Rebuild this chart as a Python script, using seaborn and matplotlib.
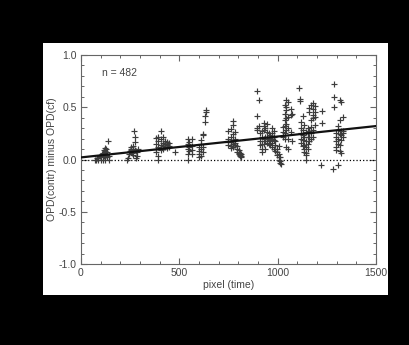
import matplotlib
matplotlib.use('Agg')
import matplotlib.pyplot as plt
from matplotlib.patches import Rectangle
from matplotlib.ticker import MultipleLocator
import seaborn as sns

# OPD(contr) - OPD(cf) against pixel
pixel = (
    [72, 76, 80, 84, 88, 96, 100, 104, 106, 110, 112, 116, 118, 120, 122, 124,
     126, 128, 130, 132, 136, 140, 144]
    + [236, 238, 245, 247, 252, 254, 256, 258, 262, 264, 266, 272, 274, 275,
       276, 278, 282, 284, 286, 288]
    + [382, 382, 382, 382, 394, 394, 394, 394, 394, 406, 406, 406, 406,
       419, 419, 419, 419, 428, 428, 428, 436, 436, 436, 436, 445, 445, 445, 479]
    + [543, 543, 543, 543, 543, 551, 551, 551, 563, 563, 563, 563]
    + [602, 602, 602, 602, 611, 611, 611, 611, 619, 619, 619, 619]
    + [633, 633, 635, 635]
    + [750, 750, 750, 750, 762, 762, 762, 762, 762, 772, 772, 772, 772, 772,
       772, 784, 784, 784, 784, 792, 792, 792, 801, 801, 801, 809, 809, 809,
       815, 815, 815]
    + [894, 894, 894, 894, 903, 903, 911, 911, 911, 920, 920, 920, 920, 920]
    + [928, 928, 928, 928, 928, 937, 937, 937, 937, 945, 945, 945, 945, 945,
       954, 954, 954, 954, 962, 962, 962, 962, 971, 971, 971, 971, 971,
       979, 979, 979, 979, 988, 988, 988]
    + [999, 999, 999, 1006, 1006, 1006, 1006, 1013, 1013, 1013, 1016]
    + [1027, 1027, 1027, 1035, 1035, 1035, 1035, 1035, 1035,
       1044, 1044, 1044, 1044, 1044, 1044, 1044, 1052, 1052, 1052, 1052, 1052]
    + [1067, 1067, 1067, 1074, 1074]
    + [1111, 1115, 1115]
    + [1118, 1118, 1118, 1118, 1118, 1128, 1128, 1128, 1128, 1128,
       1135, 1135, 1135, 1135, 1135, 1144, 1144, 1144, 1144, 1144, 1144,
       1152, 1152, 1152, 1152, 1152]
    + [1161, 1161, 1161, 1161, 1161, 1169, 1169, 1169, 1169, 1169, 1169,
       1179, 1179, 1179, 1179, 1179, 1179, 1188, 1188, 1188, 1188]
    + [1225, 1225, 1220]
    + [1288, 1288, 1288, 1283, 1298, 1298, 1298, 1298, 1298,
       1307, 1307, 1307, 1307, 1307, 1315, 1315, 1315, 1315, 1315,
       1324, 1324, 1324, 1324, 1324, 1332, 1332, 1332, 1332]
)
opd_diff = (
    [0.0, 0.0, 0.01, 0.0, 0.01, 0.03, 0.0, 0.02, 0.05, 0.06, 0.0, 0.09, 0.03,
     0.11, 0.0, 0.08, 0.04, 0.1, 0.02, 0.07, 0.18, 0.0, 0.03]
    + [0.0, 0.01, 0.05, 0.08, 0.09, 0.12, 0.1, 0.06, 0.1, 0.13, 0.04, 0.27,
       0.22, 0.17, 0.09, 0.08, 0.01, 0.03, 0.07, 0.1]
    + [0.21, 0.15, 0.1, 0.07, 0.0, 0.03, 0.12, 0.22, 0.18, 0.27, 0.2, 0.14,
       0.09, 0.22, 0.16, 0.13, 0.1, 0.15, 0.18, 0.12, 0.14, 0.17, 0.11, 0.15,
       0.13, 0.16, 0.12, 0.07]
    + [0.2, 0.15, 0.1, 0.05, 0.0, 0.12, 0.08, 0.17, 0.2, 0.13, 0.09, 0.05]
    + [0.02, 0.05, 0.08, 0.12, 0.15, 0.19, 0.1, 0.03, 0.23, 0.24, 0.12, 0.07]
    + [0.36, 0.42, 0.45, 0.47]
    + [0.27, 0.2, 0.17, 0.14, 0.29, 0.22, 0.17, 0.13, 0.11, 0.33, 0.37, 0.24,
       0.19, 0.15, 0.12, 0.26, 0.2, 0.16, 0.14, 0.13, 0.1, 0.07, 0.09, 0.06,
       0.05, 0.04, 0.03, 0.06, 0.03, 0.02, 0.05]
    + [0.66, 0.42, 0.3, 0.28, 0.57, 0.32, 0.25, 0.18, 0.14, 0.1, 0.07, 0.15,
       0.22, 0.27]
    + [0.35, 0.32, 0.28, 0.2, 0.15, 0.3, 0.22, 0.18, 0.1, 0.34, 0.26, 0.2,
       0.16, 0.22, 0.25, 0.2, 0.18, 0.15, 0.21, 0.19, 0.14, 0.23, 0.3, 0.25,
       0.2, 0.16, 0.12, 0.27, 0.22, 0.19, 0.1, 0.18, 0.14, 0.08]
    + [0.1, 0.07, 0.04, 0.05, 0.02, 0.0, 0.13, -0.01, -0.03, 0.02, -0.04]
    + [0.31, 0.26, 0.22, 0.44, 0.38, 0.32, 0.25, 0.2, 0.52,
       0.57, 0.5, 0.47, 0.4, 0.34, 0.28, 0.12, 0.55, 0.41, 0.3, 0.2, 0.1]
    + [0.48, 0.43, 0.26, 0.18, 0.44]
    + [0.68, 0.58, 0.56]
    + [0.36, 0.3, 0.25, 0.2, 0.16, 0.28, 0.23, 0.19, 0.13, 0.42,
       0.22, 0.14, 0.1, 0.07, 0.33, 0.26, 0.18, 0.12, 0.04, 0.0, 0.06,
       0.3, 0.25, 0.22, 0.15, 0.1]
    + [0.49, 0.45, 0.27, 0.22, 0.18, 0.38, 0.31, 0.26, 0.2, 0.52, 0.25,
       0.54, 0.48, 0.43, 0.4, 0.28, 0.22, 0.51, 0.45, 0.41, 0.33]
    + [0.46, 0.35, -0.05]
    + [0.72, 0.6, 0.5, -0.09, 0.25, 0.18, 0.12, 0.09, 0.22,
       -0.05, 0.32, 0.28, 0.2, 0.15, 0.38, 0.57, 0.24, 0.14, 0.08,
       0.55, 0.27, 0.23, 0.19, 0.06, 0.41, 0.25, 0.22, 0.27]
)

# linear fit drawn over the full range
fit_x = [0, 1500]
fit_y = [0.02, 0.32]

n_label = "n = 482"

sns.set_style('ticks')
plt.rcParams['font.family'] = ['Liberation Sans', 'DejaVu Sans']

fig = plt.figure(figsize=(4.1, 3.45), dpi=100, facecolor='black')
fig.patches.append(Rectangle((43 / 410, 1 - 295 / 345), 345 / 410, 252 / 345,
                             transform=fig.transFigure, facecolor='white',
                             edgecolor='none', zorder=-1))
ax = fig.add_axes([81 / 410, 81 / 345, 295 / 410, 209 / 345])
ax.set_facecolor('white')

ax.axhline(0, color='black', linestyle=':', linewidth=0.9)
sns.scatterplot(x=pixel, y=opd_diff, marker='+', color='#3c3c3c', s=20,
                linewidth=0.85, ax=ax, zorder=3)
sns.lineplot(x=fit_x, y=fit_y, color='#111111', linewidth=1.6, ax=ax, zorder=4)

ax.set_xlim(0, 1500)
ax.set_ylim(-1.0, 1.0)
ax.xaxis.set_major_locator(MultipleLocator(500))
ax.xaxis.set_minor_locator(MultipleLocator(100))
ax.yaxis.set_major_locator(MultipleLocator(0.5))
ax.yaxis.set_minor_locator(MultipleLocator(0.1))
ax.yaxis.set_major_formatter(matplotlib.ticker.FormatStrFormatter('%.1f'))
ax.tick_params(which='both', direction='in', top=True, right=True,
               color='#666666', labelsize=7.5, labelcolor='#444444', pad=3)
ax.tick_params(which='major', length=4, width=0.8)
ax.tick_params(which='minor', length=2.5, width=0.7)
for s in ax.spines.values():
    s.set_color('#666666')
    s.set_linewidth(0.8)

ax.text(105, 0.83, n_label, fontsize=7.5, color='#444444', va='center')
ax.set_xlabel('pixel (time)', fontsize=7.5, color='#444444', labelpad=1)
ax.set_ylabel('OPD(contr) minus OPD(cf)', fontsize=7.5, color='#444444',
              labelpad=1)

fig.savefig('out.png', dpi=100, facecolor='black')
